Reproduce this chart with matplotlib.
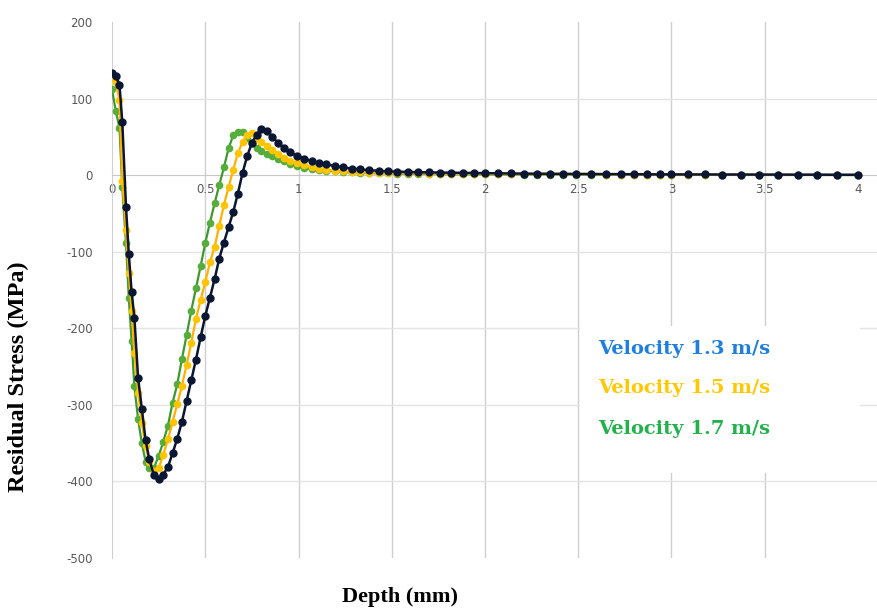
import matplotlib
matplotlib.use('Agg')
import matplotlib.pyplot as plt
from matplotlib.patches import Rectangle

plt.rcParams['axes.unicode_minus'] = False

# Depth (mm) nodes and residual stress (MPa) for each impact velocity
depth = [0.00, 0.02, 0.04, 0.055, 0.075, 0.09, 0.105, 0.12, 0.14, 0.16,
         0.18, 0.20, 0.225, 0.25, 0.275, 0.30, 0.325, 0.35, 0.375, 0.40,
         0.425, 0.45, 0.475, 0.50, 0.525, 0.55, 0.575, 0.60, 0.625, 0.65,
         0.675, 0.70, 0.725, 0.75, 0.775, 0.80, 0.83, 0.86, 0.89, 0.92,
         0.955, 0.99, 1.03, 1.07, 1.11, 1.15, 1.195, 1.24, 1.285, 1.33,
         1.38, 1.43, 1.48, 1.53, 1.585, 1.64, 1.70, 1.76, 1.82, 1.88,
         1.94, 2.00, 2.07, 2.14, 2.21, 2.28, 2.35, 2.42, 2.49, 2.57,
         2.65, 2.73, 2.80, 2.87, 2.94, 3.00, 3.09, 3.18, 3.27, 3.37,
         3.47, 3.57, 3.68, 3.78, 3.89, 4.00]

stress_13 = [133, 129, 118, 70, -41, -103, -152, -186, -265, -305,
             -346, -371, -392, -397, -391, -381, -363, -344, -322, -295,
             -268, -241, -212, -184, -160, -136, -109, -88, -68, -48,
             -24, 3, 25, 42, 53, 60, 57, 50, 42, 36,
             30, 25, 21.5, 18.5, 16, 14, 12, 10, 8.5, 7.5,
             6.5, 5.7, 5, 4.5, 4.2, 3.9, 3.6, 3.4, 3.2, 3.0,
             2.8, 2.6, 2.4, 2.2, 2.0, 1.9, 1.8, 1.7, 1.6, 1.5,
             1.4, 1.3, 1.2, 1.1, 1.0, 1.0, 0.9, 0.9, 0.8, 0.8,
             0.7, 0.7, 0.6, 0.6, 0.5, 0.5]

stress_15 = [127, 121, 98, -8, -72, -128, -178, -232, -284, -324,
             -354, -375, -387, -383, -365, -345, -322, -299, -275, -248,
             -219, -188, -163, -140, -114, -94, -66, -39, -16, 7,
             29, 43, 53, 55, 49, 43, 38, 33, 28, 23,
             19, 16, 13, 10.5, 8.5, 7, 6, 5, 4.3, 3.8,
             3.4, 3.1, 2.8, 2.6, 2.4, 2.2, 2.0, 1.9, 1.8, 1.7,
             1.6, 1.5, 1.4, 1.3, 1.2, 1.1, 1.0, 1.0, 0.9, 0.9,
             0.8, 0.8, 0.7, 0.7, 0.6, 0.6, 0.6, 0.5, 0.5, 0.5,
             0.4, 0.4, 0.4, 0.3, 0.3, 0.3]

stress_17 = [112, 84, 62, -15, -89, -160, -216, -276, -319, -350,
             -374, -383, -382, -367, -348, -327, -297, -273, -240, -209,
             -177, -148, -119, -89, -62, -37, -13, 10, 35, 52,
             56, 56, 48, 42, 36, 32, 28, 24.5, 21.5, 19,
             15, 12, 9.5, 8, 6.5, 5.5, 5, 4, 3.5, 3,
             2.7, 2.4, 2.2, 2.0, 1.8, 1.6, 1.5, 1.4, 1.3, 1.2,
             1.1, 1.0, 0.9, 0.9, 0.8, 0.8, 0.7, 0.7, 0.6, 0.6,
             0.5, 0.5, 0.5, 0.4, 0.4, 0.4, 0.3, 0.3, 0.3, 0.3,
             0.2, 0.2, 0.2, 0.2, 0.1, 0.1]

labels = ['Velocity 1.3 m/s', 'Velocity 1.5 m/s', 'Velocity 1.7 m/s']
label_colors = ['#1f7fe0', '#ffc800', '#22b24c']

x_ticks = [0, 0.5, 1, 1.5, 2, 2.5, 3, 3.5, 4]
x_ticklabels = ['0', '0.5', '1', '1.5', '2', '2.5', '3', '3.5', '4']
y_ticks = [200, 100, 0, -100, -200, -300, -400, -500]

fig = plt.figure(figsize=(8.78, 6.08), dpi=100)
ax = fig.add_axes([112 / 878, 50 / 608, 766 / 878, 536 / 608])

# grid lines
for xv in x_ticks[1:-1]:
    ax.axvline(xv, color='#cfcfcf', lw=1.0, zorder=0)
for yv in [100, -100, -200, -300, -400]:
    ax.axhline(yv, color='#e4e4e4', lw=1.0, zorder=0)

# white box behind the legend text (hides the grid there)
ax.add_patch(Rectangle((580 / 878, 1 - 473 / 608), 280 / 878, 147 / 608,
                       transform=fig.transFigure, fc='white', ec='none',
                       zorder=1.5))

# curves (1.3 m/s drawn on top like the original)
ax.plot(depth, stress_17, color='#3c9a2c', lw=1.6, marker='o', ms=4.5,
        mfc='#55ad3c', mec='#55ad3c', zorder=3)
ax.plot(depth, stress_15, color='#ffb000', lw=1.6, marker='o', ms=4.5,
        mfc='#ffc400', mec='#ffc400', zorder=4)
ax.plot(depth, stress_13, color='#0b1633', lw=1.8, marker='o', ms=5,
        mfc='#0b1633', mec='#0b1633', zorder=5)

ax.set_xlim(0, 766 / 186.5)
ax.set_ylim(-500, 200)

ax.spines['top'].set_visible(False)
ax.spines['right'].set_visible(False)
ax.spines['left'].set_color('#d0d0d0')
ax.spines['bottom'].set_position(('data', 0))
ax.spines['bottom'].set_color('#c8c8c8')
ax.spines['bottom'].set_zorder(1)

ax.set_xticks(x_ticks)
ax.set_xticklabels(x_ticklabels)
ax.set_yticks(y_ticks)
ax.tick_params(axis='both', length=0, labelsize=8.5, labelcolor='#595959')
ax.tick_params(axis='x', pad=6)
ax.tick_params(axis='y', pad=14)

serif = 'Liberation Serif'
fig.text(18 / 878, 1 - 377 / 608, 'Residual Stress (MPa)', rotation=90,
         ha='center', va='center', fontsize=17.5, fontweight='bold', family=serif)
fig.text(400 / 878, 1 - 597 / 608, 'Depth (mm)', ha='center', va='center',
         fontsize=16, fontweight='bold', family=serif)

for i, (lab, col) in enumerate(zip(labels, label_colors)):
    fig.text(598 / 878, 1 - [349, 388, 429][i] / 608, lab, color=col,
             ha='left', va='center', fontsize=14, fontweight='bold',
             family='DejaVu Serif')

fig.savefig('out.png', dpi=100)
